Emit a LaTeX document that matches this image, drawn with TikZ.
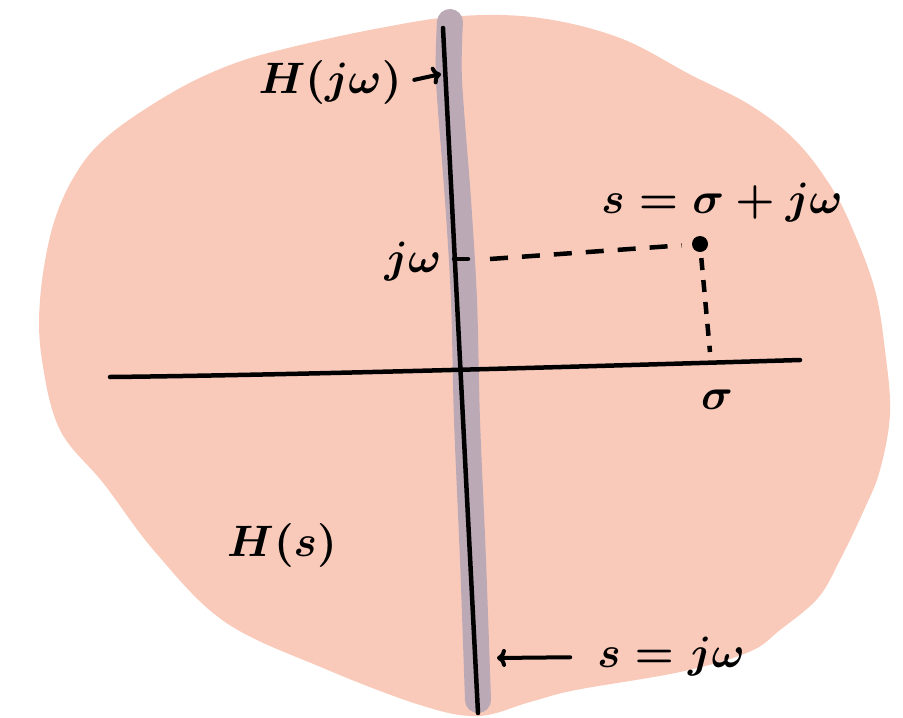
\documentclass[tikz,border=0pt]{standalone}
\usepackage{tikz}
\usetikzlibrary{arrows.meta}
\definecolor{blobpink}{HTML}{F9CABA}
\definecolor{bandgray}{HTML}{BBA9B6}

\begin{document}
\begin{tikzpicture}[x=1pt, y=-1pt, lbl/.style={scale=4.4, inner sep=0.5pt, font=\boldmath}, axisline/.style={line width=4.5pt, line cap=round}, guide/.style={line width=4.5pt, dash pattern=on 18pt off 14pt}, tip/.style={line width=4pt, -{To[length=9pt, width=18pt]}, line cap=round}, dot/.style={circle, fill=black, minimum size=16pt, inner sep=0pt}]
	\useasboundingbox (0,0) rectangle (903,718);
	\fill[blobpink] plot[smooth cycle, tension=0.6] coordinates {(478,716) (420,705) (323,668) (225,622) (156,553) (104,484) (60,430) (42,360) (40,300) (52,229) (75,175) (109,135) (173,92) (230,65) (288,48) (380,28) (461,16) (540,18) (620,38) (691,75) (750,105) (795,140) (830,185) (853,230) (875,290) (885,350) (890,413) (880,470) (864,510) (840,560) (818,598) (780,630) (749,652) (680,672) (576,690) (530,702)};
	\draw[bandgray, line width=26pt, line cap=round] plot[smooth] coordinates {(450,22) (449,80) (458,200) (464,300) (467,420) (473,560) (478,700)};
	\coordinate (ytop) at (443,28);
	\coordinate (ybot) at (478,713);
	\coordinate (xl) at (110,377);
	\coordinate (xr) at (800,360);
	\coordinate (tick) at (454,259);
	\coordinate (dh) at (490,259);
	\coordinate (dv) at (710,352);
	\coordinate (hjwtip) at (441,74);
	\coordinate (sjwtip) at (497,658);
	\draw[axisline] (ytop) -- (ybot);
	\draw[axisline] (xl) .. controls (300,375) and (600,366) .. (xr);
	\draw[axisline] (tick) -- ++(14,0);
	\node[dot] (pt) at (700,244) {};
	\draw[guide, shorten >=10pt] (dh) -- (pt);
	\draw[guide, dash pattern=on 12pt off 10pt, shorten <=6pt] (pt) -- (dv);
	\node[lbl] (hjw) at (330,82) {$H(j\omega)$};
	\node[lbl] (seq) at (722,203) {$s=\sigma+j\omega$};
	\node[lbl] (jw) at (413,262) {$j\omega$};
	\node[lbl] (sig) at (717,400) {$\sigma$};
	\node[lbl] (hs) at (282,545) {$H(s)$};
	\node[lbl] (sjw) at (671,657) {$s=j\omega$};
	\draw[tip, shorten <=10pt] (hjw.east) -- (hjwtip);
	\draw[tip, shorten <=24pt] (sjw.west) -- (sjwtip);
\end{tikzpicture}
\end{document}
